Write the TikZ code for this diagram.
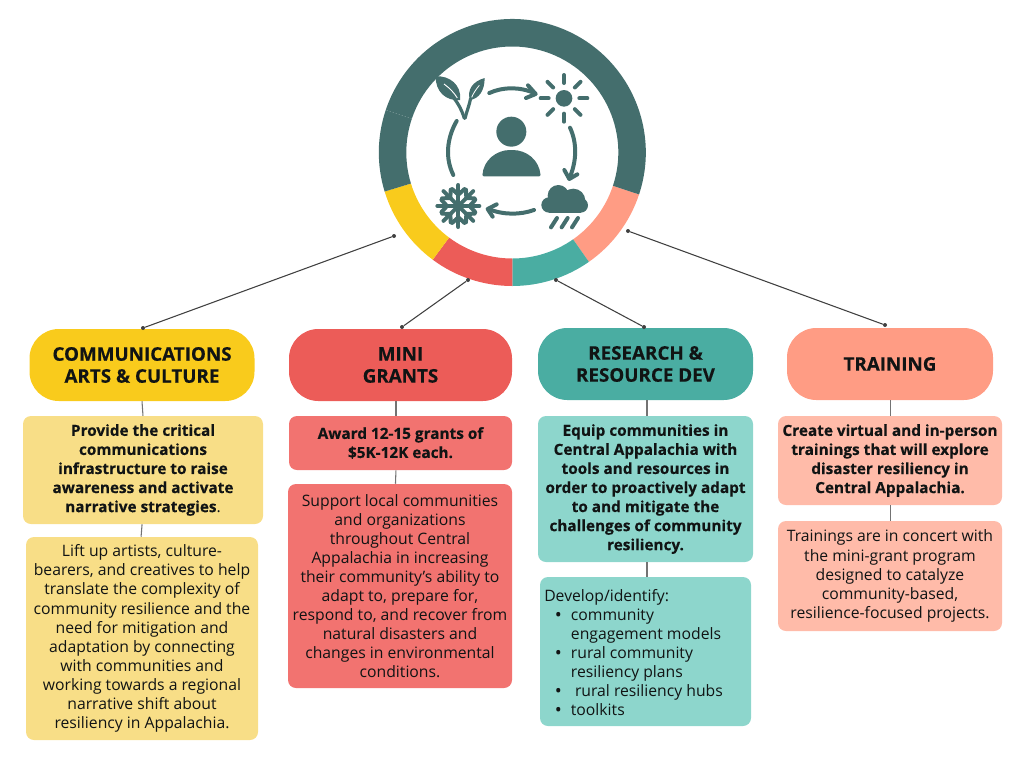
\documentclass[tikz,border=0pt]{standalone}
\usepackage{fontspec}
\setmainfont{Open Sans}[BoldFeatures={FakeBold=0.25}]
\definecolor{ringDark}{HTML}{446E6D}
\definecolor{commHue}{HTML}{F9CB1C}
\definecolor{commPale}{HTML}{F8DE87}
\definecolor{grantHue}{HTML}{EC5C58}
\definecolor{grantPale}{HTML}{F27370}
\definecolor{researchHue}{HTML}{4AADA2}
\definecolor{researchPale}{HTML}{8DD6CC}
\definecolor{trainHue}{HTML}{FF9C84}
\definecolor{trainPale}{HTML}{FFBBA9}
\definecolor{inkText}{HTML}{111414}
\newcommand{\bulitem}{\makebox[20pt][l]{\hspace{8pt}\raisebox{-0.6pt}{\fontsize{14}{14}\selectfont\textbullet}}}
\newcommand{\boldlines}{\fontsize{11.5}{14.3}\selectfont\bfseries}
\tikzset{
  headbox/.style 2 args={rounded corners=22pt,inner sep=0pt,align=center,text=inkText,
    minimum width=#1*0.75pt,minimum height=#2*0.75pt,font=\fontsize{14.1}{16.5}\selectfont\bfseries},
  textbox/.style 2 args={rounded corners=6pt,inner sep=0pt,align=center,text=inkText,
    minimum width=#1*0.75pt,minimum height=#2*0.75pt,font=\fontsize{11.8}{14.3}\selectfont},
  dotmark/.style={circle,fill=black!75,inner sep=0pt,minimum size=3pt},
  spoke/.style={draw=black!75,line width=0.8pt},
  stem/.style={draw=black!55,line width=0.8pt},
  icon/.style={draw=ringDark,line width=3pt,line cap=round,line join=round},
}
\begin{document}
\begin{tikzpicture}[x=0.75pt,y=0.75pt,yscale=-1,xscale=1]
\useasboundingbox (0,0) rectangle (1024,768);

%Ring
\coordinate (ringC) at (512.3,152.5);
\foreach \a/\b/\c in {18.3/55/trainHue,55/90/researchHue,90/126.6/grantHue,126.6/163/commHue,163/198.6/ringDark,198.6/378.3/ringDark}{
  \fill [\c] ([shift={(\a:133.5)}]ringC) arc [start angle=\a,end angle=\b,radius=133.5] -- ([shift={(\b:106)}]ringC) arc [start angle=\b,end angle=\a,radius=106] -- cycle;
}

%Icons, in a scope of 3 units to the pixel
\begin{scope}[shift={(370,10)},scale=1/3]
%Person
\fill [ringDark] (424,365) circle (45);
\fill [ringDark,rounded corners=1pt] (337,499) .. controls (340,450) and (380,420) .. (424,420) .. controls (470,420) and (508,450) .. (512,499) -- cycle;
%Sun
\fill [ringDark] (582,265) circle (25);
\foreach \t in {0,45,...,315}{
  \draw [icon] ([shift={(\t:46)}]582,265) -- ([shift={(\t:70)}]582,265);
}
%Cycle arrows
\draw [icon] (358,249) .. controls (400,230) and (450,230) .. (495,250);
\draw [icon] (474,226) -- (497,252) -- (468,264);
\draw [icon] (600,353) .. controls (622,400) and (620,455) .. (598,505);
\draw [icon] (583,480) -- (598,507) -- (622,493);
\draw [icon] (492,600) .. controls (450,615) and (400,615) .. (355,597);
\draw [icon] (380,583) -- (353,597) -- (368,620);
\draw [icon] (260,333) .. controls (230,385) and (225,445) .. (250,495);
%Cloud and rain
\fill [ringDark] (565,557) circle (32) (610,572) circle (36) (632,586) circle (22) (537,585) circle (23);
\fill [ringDark] (537,570) rectangle (632,608);
\foreach \x in {0,32,63}{
  \draw [icon] (561+\x,624) -- (543+\x,652);
}
%Snowflake
\foreach \t in {0,45,...,315}{
  \draw [icon] (265,588) -- ([shift={(\t:63)}]265,588);
  \draw [icon] ([shift={(\t:34)}]265,588) -- ([shift={(\t+20:54)}]265,588);
  \draw [icon] ([shift={(\t:34)}]265,588) -- ([shift={(\t-20:54)}]265,588);
}
%Plant
\fill [ringDark] (197,199) .. controls (238,196) and (276,225) .. (270,270) .. controls (228,274) and (196,245) .. (197,199) -- cycle;
\fill [ringDark] (344,204) .. controls (344,242) and (327,266) .. (300,270) .. controls (290,240) and (308,214) .. (344,204) -- cycle;
\draw [icon,line width=2.4pt] (250,262) .. controls (268,285) and (277,305) .. (283,325);
\draw [icon,line width=2.4pt] (302,265) .. controls (298,285) and (290,305) .. (285,325);
\draw [white,line width=0.7pt] (222,222) .. controls (240,235) and (252,248) .. (262,264);
\draw [white,line width=0.6pt] (328,226) .. controls (318,238) and (310,250) .. (305,262);
\end{scope}

%Header nodes
\node (commHead) [headbox={225}{72},fill=commHue] at (142,365) {COMMUNICATIONS\\ARTS \& CULTURE};
\node (grantHead) [headbox={223}{72},fill=grantHue] at (400.5,365) {MINI\\GRANTS};
\node (researchHead) [headbox={215}{72},fill=researchHue] at (645.5,364) {RESEARCH \&\\RESOURCE DEV};
\node (trainHead) [headbox={206}{72},fill=trainHue] at (890,364) {TRAINING};

%Text nodes
\node (commBox) [textbox={240}{108},fill=commPale] at (143,470) {\boldlines Provide the critical\\\boldlines communications\\\boldlines infrastructure to raise\\\boldlines awareness and activate\\{\boldlines narrative strategies}.};
\node (commNote) [textbox={232}{203},fill=commPale] at (142,638.5) {Lift up artists, culture-\\bearers, and creatives to help\\translate the complexity of\\community resilience and the\\need for mitigation and\\adaptation by connecting\\with communities and\\working towards a regional\\narrative shift about\\resiliency in Appalachia.};
\node (grantBox) [textbox={223}{54},fill=grantPale] at (400.5,443) {\boldlines Award 12-15 grants of\\\boldlines \$5K-12K each.};
\node (grantNote) [textbox={224}{204},fill=grantPale] at (400,586) {Support local communities\\and organizations\\throughout Central\\Appalachia in increasing\\their community's ability to\\adapt to, prepare for,\\respond to, and recover from\\natural disasters and\\changes in environmental\\conditions.};
\node (researchBox) [textbox={215}{146},fill=researchPale] at (645.5,489) {\boldlines Equip communities in\\\boldlines Central Appalachia with\\\boldlines tools and resources in\\\boldlines order to proactively adapt\\\boldlines to and mitigate the\\\boldlines challenges of community\\\boldlines resiliency.};
\node (researchNote) [textbox={211}{149},fill=researchPale] at (645.5,651.5) {};
\node (researchList) [anchor=north west,inner sep=0pt,align=left,text=inkText,font=\fontsize{11.8}{14.3}\selectfont] at (544,589) {Develop/identify:\\\bulitem community\\\hspace*{20pt}engagement models\\\bulitem rural community\\\hspace*{20pt}resiliency plans\\\bulitem\ rural resiliency hubs\\\bulitem toolkits};
\node (trainBox) [textbox={224}{89},fill=trainPale] at (890,460.5) {\boldlines Create virtual and in-person\\\boldlines trainings that will explore\\\boldlines disaster resiliency in\\\boldlines Central Appalachia.};
\node (trainNote) [textbox={224}{110},fill=trainPale] at (890,576) {Trainings are in concert with\\the mini-grant program\\designed to catalyze\\community-based,\\resilience-focused projects.};

%Spokes from the ring
\node (dotComm) [dotmark] at (394,236) {};
\node (dotCommEnd) [dotmark] at (143,328) {};
\node (dotGrant) [dotmark] at (468,280) {};
\node (dotGrantEnd) [dotmark] at (402,327) {};
\node (dotResearch) [dotmark] at (556,280) {};
\node (dotResearchEnd) [dotmark] at (644,327) {};
\node (dotTrain) [dotmark] at (628,231) {};
\node (dotTrainEnd) [dotmark] at (885,325) {};
\foreach \p in {Comm,Grant,Research,Train}{
  \draw [spoke] (dot\p) -- (dot\p End);
}

%Stems between the boxes
\foreach \u/\v/\d in {commHead/commBox/0,commBox/commNote/-0.7,grantHead/grantBox/-3.4,grantBox/grantNote/-3.4,researchHead/researchBox/1.1,researchBox/researchNote/1.1,trainHead/trainBox/0.5,trainBox/trainNote/0.5}{
  \draw [stem] ([xshift=\d pt]\u.south) -- ([xshift=\d pt]\v.north);
}
\end{tikzpicture}
\end{document}
